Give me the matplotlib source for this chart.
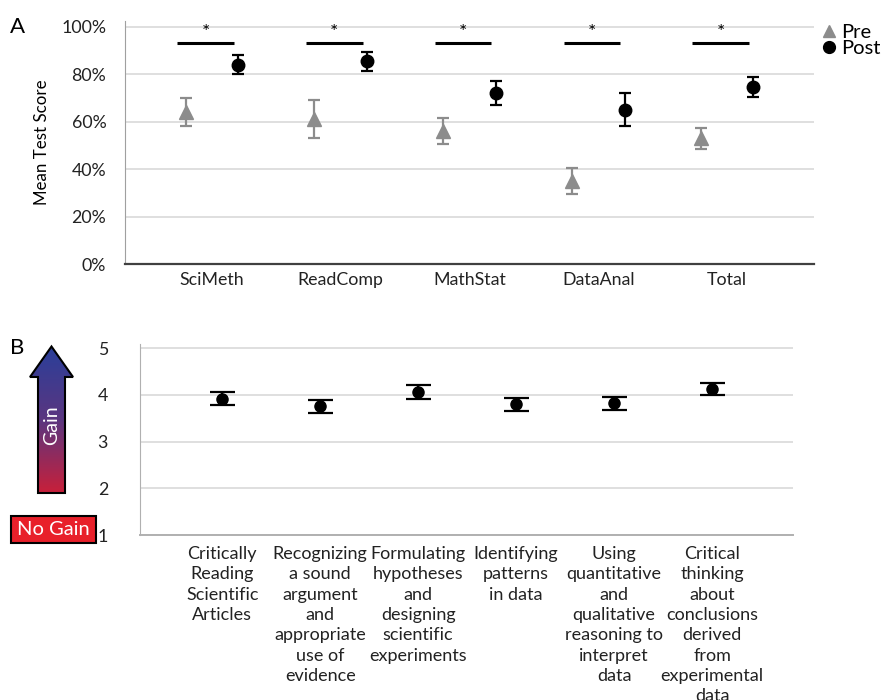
import matplotlib
matplotlib.use("Agg")
import matplotlib.pyplot as plt
import numpy as np
from matplotlib.patches import Polygon, Rectangle
from matplotlib.lines import Line2D
from matplotlib.colors import LinearSegmentedColormap

plt.rcParams['font.family'] = ['Lato', 'DejaVu Sans']

# ---------------- data ----------------
cats_A = ['SciMeth', 'ReadComp', 'MathStat', 'DataAnal', 'Total']
pre_mean = [0.64, 0.61, 0.56, 0.35, 0.53]
pre_err = [0.06, 0.08, 0.054, 0.054, 0.045]
post_mean = [0.84, 0.855, 0.72, 0.65, 0.745]
post_err = [0.041, 0.04, 0.05, 0.07, 0.041]
sig_level = 0.933
yticks_A = [0, 0.2, 0.4, 0.6, 0.8, 1.0]
ytick_labels_A = ['0%', '20%', '40%', '60%', '80%', '100%']

cats_B = ['Critically\nReading\nScientific\nArticles',
          'Recognizing\na sound\nargument\nand\nappropriate\nuse of\nevidence',
          'Formulating\nhypotheses\nand\ndesigning\nscientific\nexperiments',
          'Identifying\npatterns\nin data',
          'Using\nquantitative\nand\nqualitative\nreasoning to\ninterpret\ndata',
          'Critical\nthinking\nabout\nconclusions\nderived\nfrom\nexperimental\ndata']
gain_mean = [3.92, 3.76, 4.06, 3.80, 3.82, 4.13]
gain_err = [0.14, 0.14, 0.15, 0.14, 0.14, 0.13]
yticks_B = [1, 2, 3, 4, 5]

W, H = 886, 700
fig = plt.figure(figsize=(W / 100, H / 100), dpi=100)

def fx(px):
    return px / W

def fy(py):
    return 1 - py / H

PRE_C = '#8c8c8c'
GRID_C = '#d9d9d9'

# ---------------- Panel A ----------------
axA = fig.add_axes([fx(125), fy(264), fx(814) - fx(125), fy(20.7) - fy(264)])
x = np.arange(len(cats_A))
off = 0.205
axA.errorbar(x - off, pre_mean, yerr=pre_err, fmt='^', color=PRE_C, ms=9.5,
             ecolor=PRE_C, elinewidth=1.6, capsize=4.5, capthick=1.6, zorder=3)
axA.errorbar(x + off, post_mean, yerr=post_err, fmt='o', color='black', ms=9,
             ecolor='black', elinewidth=1.6, capsize=4.5, capthick=1.6, zorder=3)
for xi in x:
    axA.plot([xi - 0.27, xi + 0.17], [sig_level, sig_level], color='black', lw=2.2,
             solid_capstyle='butt')
    axA.text(xi - 0.05, sig_level + 0.005, '*', ha='center', va='bottom', fontsize=14)
axA.set_xlim(-0.675, 4.675)
axA.set_ylim(0, 1.025)
axA.set_yticks(yticks_A)
axA.set_yticklabels(ytick_labels_A)
axA.set_xticks(x)
axA.set_xticklabels(cats_A)
axA.yaxis.grid(True, color=GRID_C, lw=1.2)
axA.set_axisbelow(True)
for s in ['top', 'right']:
    axA.spines[s].set_visible(False)
axA.spines['left'].set_color('#a0a0a0')
axA.spines['bottom'].set_color('#404040')
axA.spines['bottom'].set_linewidth(1.6)
axA.tick_params(axis='both', length=0, labelsize=12.8, colors='#222222')
axA.tick_params(axis='y', pad=13.5)
axA.tick_params(axis='x', pad=6)
axA.set_ylabel('Mean Test Score', fontsize=12.2, labelpad=8)

handles = [Line2D([], [], marker='^', color=PRE_C, ls='none', ms=8),
           Line2D([], [], marker='o', color='black', ls='none', ms=8.5)]
axA.legend(handles, ['Pre', 'Post'], loc='upper left', bbox_to_anchor=(fx(820), fy(24)),
           bbox_transform=fig.transFigure, frameon=False, fontsize=14.5,
           handletextpad=0.15, handlelength=0.9, labelspacing=-0.05, borderaxespad=0,
           borderpad=0)

fig.text(fx(10), fy(27), 'A', fontsize=16, va='center', ha='left')

# ---------------- Panel B ----------------
axB = fig.add_axes([fx(140), fy(535), fx(793.3) - fx(140), fy(344) - fy(535)])
xb = np.arange(len(cats_B))
axB.errorbar(xb, gain_mean, yerr=gain_err, fmt='o', color='black', ms=8,
             ecolor='black', elinewidth=1.6, capsize=9, capthick=1.6, zorder=3)
axB.set_xlim(-0.84, 5.83)
axB.set_ylim(1, 5.09)
axB.set_yticks(yticks_B)
axB.set_xticks(xb)
axB.set_xticklabels(cats_B, fontsize=13, linespacing=1.33)
axB.yaxis.grid(True, color=GRID_C, lw=1.2)
axB.set_axisbelow(True)
for s in ['top', 'right']:
    axB.spines[s].set_visible(False)
axB.spines['left'].set_color('#b0b0b0')
axB.spines['bottom'].set_color('#b0b0b0')
axB.spines['bottom'].set_linewidth(1.4)
axB.tick_params(axis='both', length=0, colors='#222222')
axB.tick_params(axis='y', labelsize=12.8, pad=23)
axB.tick_params(axis='x', pad=8)

fig.text(fx(10), fy(348), 'B', fontsize=16, va='center', ha='left')

# gradient arrow and "No Gain" box
axArr = fig.add_axes([0, 0, 1, 1], zorder=5)
axArr.set_xlim(0, W)
axArr.set_ylim(H, 0)
axArr.axis('off')
arrow_pts = [(38, 493), (38, 377), (30, 377), (51.5, 346.5), (73, 377), (65, 377), (65, 493)]
poly = Polygon(arrow_pts, closed=True, facecolor='none', edgecolor='black', lw=1.5, zorder=3)
axArr.add_patch(poly)
grad = np.linspace(0, 1, 256).reshape(-1, 1)
cmap = LinearSegmentedColormap.from_list('g', ['#2a3f9a', '#5a3680', '#c8203a'])
im = axArr.imshow(grad, extent=[28, 75, 493, 346], aspect='auto', cmap=cmap, zorder=2,
                  origin='upper')
im.set_clip_path(poly)
axArr.text(51.5, 425, 'Gain', rotation=90, color='white', fontsize=14,
           ha='center', va='center', zorder=4)
axArr.add_patch(Rectangle((11, 516), 85, 27, facecolor='#e8202a', edgecolor='black',
                          lw=1.5, zorder=3))
axArr.text(53.5, 529.5, 'No Gain', color='white', fontsize=14.5, ha='center', va='center',
           zorder=4)

fig.savefig('out.png', dpi=100)
